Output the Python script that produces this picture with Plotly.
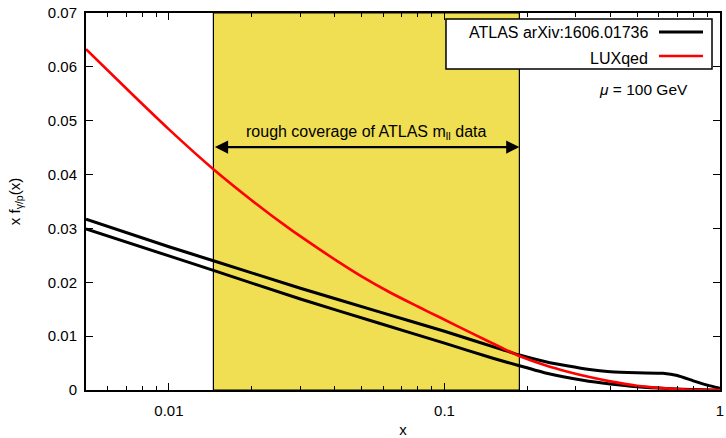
import numpy as np
import plotly.graph_objects as go

# ---- data ----
x_red = [0.005, 0.0075, 0.01, 0.0145, 0.02, 0.0273, 0.035, 0.0415, 0.05, 0.063, 0.08, 0.096,
         0.126, 0.162, 0.187, 0.235, 0.28, 0.336, 0.4, 0.5, 0.6, 0.75, 1.0]
y_red = [0.0633, 0.0545, 0.0484, 0.0410, 0.0352, 0.0300, 0.0262, 0.0237, 0.0211, 0.0182, 0.0155, 0.0135,
         0.0105, 0.0078, 0.0063, 0.0045, 0.0034, 0.0024, 0.0016, 0.0008, 0.0004, 0.0001, 0.0]

x_up = [0.005, 0.01, 0.0145, 0.03, 0.058, 0.1, 0.162, 0.187, 0.235,
        0.278, 0.336, 0.4, 0.5, 0.62, 0.7, 0.8, 0.9, 1.0]
y_up = [0.0317, 0.0266, 0.0240, 0.0189, 0.0145, 0.0109, 0.0075, 0.0065, 0.0052,
        0.0045, 0.0038, 0.0034, 0.0032, 0.0031, 0.0027, 0.0017, 0.0009, 0.0003]

x_lo = [0.005, 0.01, 0.0145, 0.03, 0.058, 0.1, 0.15, 0.187, 0.235,
        0.318, 0.4, 0.5, 0.7, 1.0]
y_lo = [0.0299, 0.0249, 0.0222, 0.0169, 0.0124, 0.0087, 0.0059, 0.0045, 0.0031,
        0.0018, 0.0011, 0.0006, 0.0002, 0.0]

band_x = [0.0145, 0.187]
x_ticks = [0.01, 0.1, 1]
x_ticklabels = ["0.01", "0.1", "1"]
x_minor = [m * d for d in (0.001, 0.01, 0.1) for m in range(2, 10) if 0.005 <= m * d <= 1]
y_ticks = [0, 0.01, 0.02, 0.03, 0.04, 0.05, 0.06, 0.07]
y_ticklabels = ["0", "0.01", "0.02", "0.03", "0.04", "0.05", "0.06", "0.07"]

FONT = "Liberation Sans, Arial, sans-serif"

fig = go.Figure()

fig.add_shape(type="rect", xref="x", yref="y", x0=band_x[0], x1=band_x[1], y0=0, y1=0.07,
              fillcolor="#F0DF52", line=dict(color="black", width=1.2), layer="below")

fig.add_trace(go.Scatter(x=x_up, y=y_up, mode="lines", line=dict(color="black", width=3, shape="spline", smoothing=0.5),
                         name="ATLAS arXiv:1606.01736"))
fig.add_trace(go.Scatter(x=x_lo, y=y_lo, mode="lines", line=dict(color="black", width=3, shape="spline", smoothing=0.5),
                         showlegend=False))
fig.add_trace(go.Scatter(x=x_red, y=y_red, mode="lines", line=dict(color="#FF0000", width=2.6, shape="spline", smoothing=0.8),
                         name="LUXqed"))

# double arrow
fig.add_annotation(x=np.log10(band_x[1]), y=0.0451, ax=np.log10(band_x[0]), ay=0.0451,
                   xref="x", yref="y", axref="x", ayref="y", text="", showarrow=True,
                   arrowhead=2, arrowside="end+start", arrowwidth=2.2, arrowsize=1.2, arrowcolor="black",
                   standoff=0, startstandoff=0)
fig.add_annotation(x=np.log10(np.sqrt(band_x[0] * band_x[1])), y=0.0478, xref="x", yref="y",
                   text="rough coverage of ATLAS m<sub>ll</sub> data", showarrow=False,
                   font=dict(size=16, color="black", family=FONT))

# custom legend
fig.add_shape(type="rect", xref="paper", yref="paper", x0=0.5678, x1=0.9874, y0=0.8515, y1=0.984,
              fillcolor="white", line=dict(color="black", width=1.5), layer="above")
fig.add_shape(type="line", xref="paper", yref="paper", x0=0.9038, x1=0.9732, y0=0.9496, y1=0.9496,
              line=dict(color="black", width=3), layer="above")
fig.add_shape(type="line", xref="paper", yref="paper", x0=0.9038, x1=0.9732, y0=0.886, y1=0.886,
              line=dict(color="#FF0000", width=2.6), layer="above")
fig.add_annotation(x=0.8896, y=0.947, xref="paper", yref="paper", xanchor="right", yanchor="middle",
                   text="ATLAS arXiv:1606.01736", showarrow=False, font=dict(size=16, color="black", family=FONT))
fig.add_annotation(x=0.8896, y=0.8806, xref="paper", yref="paper", xanchor="right", yanchor="middle",
                   text="LUXqed", showarrow=False, font=dict(size=16, color="black", family=FONT))
fig.add_annotation(x=0.952, y=0.7958, xref="paper", yref="paper", xanchor="right", yanchor="middle",
                   text="<i>μ</i> = 100 GeV", showarrow=False, font=dict(size=15.5, color="black", family=FONT))

fig.update_layout(
    width=726, height=438,
    margin=dict(l=86, r=6, t=13, b=48, autoexpand=False),
    paper_bgcolor="white", plot_bgcolor="white",
    showlegend=False,
    font=dict(family=FONT, size=15, color="black"),
)
fig.update_xaxes(type="log", range=[np.log10(0.005), 0], showgrid=False, zeroline=False,
                 showline=True, linecolor="black", linewidth=2, mirror="ticks", automargin=False,
                 ticks="inside", ticklen=7, tickwidth=1.2, tickcolor="black",
                 tickvals=x_ticks, ticktext=x_ticklabels, ticklabelstandoff=6,
                 minor=dict(tickvals=x_minor, ticks="inside", ticklen=4, tickwidth=1.2, tickcolor="black", showgrid=False),
                 title=dict(text="x", standoff=10, font=dict(size=15)))
fig.update_yaxes(range=[0, 0.07], showgrid=False, zeroline=False,
                 showline=True, linecolor="black", linewidth=2, mirror="ticks", automargin=False,
                 ticks="inside", ticklen=7, tickwidth=1.2, tickcolor="black",
                 tickvals=y_ticks, ticktext=y_ticklabels, ticklabelstandoff=4,
                 title=dict(text="x f<sub>γ/p</sub>(x)", standoff=24, font=dict(size=15)))

fig.write_html("out.html")
